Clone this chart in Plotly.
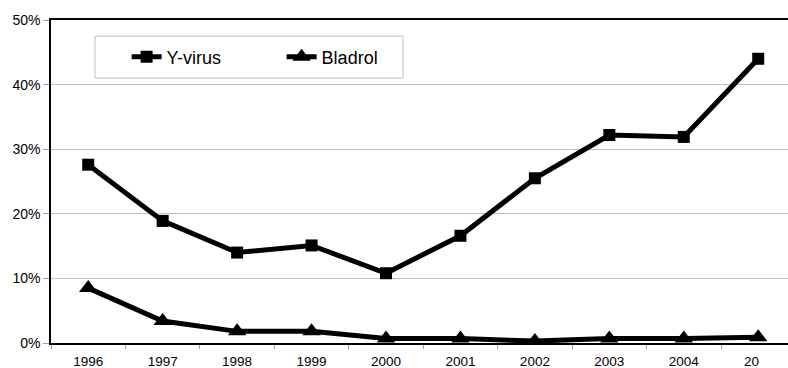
import plotly.graph_objects as go

years = ["1996", "1997", "1998", "1999", "2000", "2001", "2002", "2003", "2004", "2005"]
y_virus = [27.6, 18.9, 14.0, 15.1, 10.8, 16.6, 25.5, 32.2, 31.9, 44.0]
bladrol = [8.5, 3.4, 1.8, 1.8, 0.7, 0.7, 0.3, 0.7, 0.7, 0.9]

xpos = list(range(len(years)))
FONT = "Liberation Sans, Arial, sans-serif"

fig = go.Figure()
fig.add_trace(go.Scatter(
    x=xpos, y=[v / 100 for v in y_virus], name="Y-virus", mode="lines+markers",
    line=dict(color="black", width=5),
    marker=dict(symbol="square", size=12, color="black"),
))
fig.add_trace(go.Scatter(
    x=xpos, y=[v / 100 for v in bladrol], name="Bladrol", mode="lines+markers",
    line=dict(color="black", width=5),
    marker=dict(symbol="triangle-up", size=16, color="black"),
))

fig.update_layout(
    width=788, height=368,
    margin=dict(l=51, r=0, t=20, b=25),
    paper_bgcolor="white", plot_bgcolor="white",
    font=dict(family=FONT, size=13, color="black"),
    showlegend=True,
    legend=dict(
        orientation="h", x=0.1026, y=0.885, xanchor="left", yanchor="middle",
        bgcolor="rgba(0,0,0,0)", borderwidth=0,
        font=dict(family=FONT, size=18, color="black"),
        entrywidth=110,
    ),
    shapes=[dict(
        type="rect", xref="paper", yref="paper",
        x0=0.0597, x1=0.4776, y0=0.820, y1=0.950,
        line=dict(color="#c0c0c0", width=1), fillcolor="white", layer="below",
    )],
)

fig.update_xaxes(
    range=[-0.5, 9.40], automargin=False,
    tickmode="array", tickvals=xpos[:-1], ticktext=years[:-1],
    ticks="", ticklabelstandoff=5,
    showgrid=False, zeroline=False,
    showline=True, linecolor="black", linewidth=1.5, mirror=True,
    minor=dict(tickmode="array", tickvals=[i - 0.5 for i in range(len(years) + 1)],
               ticks="outside", ticklen=4, tickcolor="#a0a0a0", showgrid=False),
    tickfont=dict(family=FONT, size=13.5, color="black"),
)
fig.add_annotation(
    x=xpos[-1], y=0, xref="x", yref="paper", text=years[-1][:2],
    showarrow=False, xanchor="right", yanchor="top", yshift=-9, xshift=3,
    font=dict(family=FONT, size=13.5, color="black"),
)

fig.update_yaxes(
    range=[0, 0.5], dtick=0.1, tickformat=".0%", automargin=False,
    showgrid=True, gridcolor="#c0c0c0", gridwidth=1, zeroline=False,
    showline=True, linecolor="black", linewidth=1.5,
    ticks="outside", ticklen=6, tickcolor="#a0a0a0",
    tickfont=dict(family=FONT, size=14, color="black"),
)

fig.write_html(
    "out.html",
    config={"displayModeBar": False},
    post_script="document.body.style.margin='0';document.body.style.overflow='hidden';",
)
